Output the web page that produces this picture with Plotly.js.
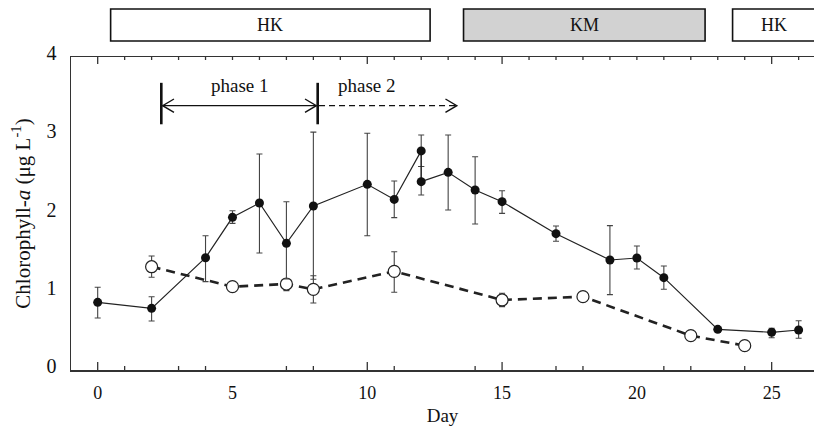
<!DOCTYPE html>
<html>
<head>
<meta charset="utf-8">
<script src="https://cdn.plot.ly/plotly-3.0.1.min.js"></script>
<style>html,body{margin:0;padding:0;background:#fff;}#chart{width:814px;height:433px;}</style>
</head>
<body>
<div id="chart"></div>
<script>
// ---- data ----
const xTickVals = [0, 5, 10, 15, 20, 25];
const xTickText = ['0', '5', '10', '15', '20', '25'];
const yTickVals = [0, 1, 2, 3, 4];
const bottomLongTicks = [0, 10, 15, 25];
const bottomShortTicks = [1, 3, 4, 7, 8, 11, 14, 17, 18, 21, 22, 24];
const topLongTicks = [0, 10, 15, 25];
const topShortTicks = [1, 2, 3, 4, 5, 6, 7, 8, 9, 11, 12, 13, 14, 16, 17, 18, 19, 20, 21, 22, 23, 24, 26];

const filledDay  = [0, 2, 4, 5, 6, 7, 8, 10, 11, 12, 12, 13, 14, 15, 17, 19, 20, 21, 23, 25, 26];
const filledChl  = [0.865, 0.788, 1.435, 1.951, 2.134, 1.619, 2.096, 2.373, 2.18, 2.80, 2.407, 2.526, 2.30, 2.151, 1.742, 1.406, 1.431, 1.18, 0.52, 0.482, 0.511];
const filledHigh = [1.057, 0.937, 1.716, 2.036, 2.76, 2.151, 3.04, 3.025, 2.415, 3.003, 2.6, 3.003, 2.726, 2.29, 1.84, 1.845, 1.585, 1.329, 0.54, 0.533, 0.63];
const filledLow  = [0.665, 0.626, 1.13, 1.874, 1.495, 1.163, 1.16, 1.716, 1.947, 2.6, 2.236, 2.045, 1.866, 2.002, 1.645, 0.963, 1.29, 1.031, 0.50, 0.413, 0.405];

const openDay  = [2, 5, 7, 8, 11, 15, 18, 22, 24];
const openChl  = [1.32, 1.065, 1.099, 1.031, 1.261, 0.895, 0.937, 0.439, 0.311];
const openHigh = [1.457, 1.09, 1.159, 1.205, 1.512, 0.98, 0.96, 0.44, 0.311];
const openLow  = [1.185, 1.04, 1.014, 0.856, 0.993, 0.81, 0.92, 0.44, 0.311];

const periodLabels = ['HK', 'KM', 'HK'];
const periodStart  = [0.48, 13.57, 23.55];
const periodEnd    = [12.33, 22.53, 27.5];
const periodLabelX = [6.4, 18.05, 25.1];
const periodFill   = ['#ffffff', '#d2d2d2', '#ffffff'];

const phaseLabels = ['phase 1', 'phase 2'];
const phaseStart  = [2.36, 8.16];
const phaseEnd    = [8.16, 13.32];
const phaseLabelX = [5.28, 10.0];

// ---- styling ----
const ink = '#222222';
const axisColor = '#333333';
const serif = 'Liberation Serif, Times New Roman, serif';
const xRange = [-0.99, 26.57];

const plusOf = (hi, v) => hi.map((h, i) => Math.max(0, h - v[i]));
const minusOf = (lo, v) => lo.map((l, i) => Math.max(0, v[i] - l));

const traces = [
  {
    x: openDay, y: openChl, type: 'scatter', mode: 'lines+markers',
    line: {color: ink, width: 2.6, dash: '9px,6px'},
    marker: {symbol: 'circle', size: 12, color: '#ffffff', line: {color: ink, width: 1.2}},
    error_y: {type: 'data', symmetric: false, array: plusOf(openHigh, openChl), arrayminus: minusOf(openLow, openChl),
              color: '#444', thickness: 1.1, width: 3},
    showlegend: false, hoverinfo: 'x+y'
  },
  {
    x: filledDay, y: filledChl, type: 'scatter', mode: 'lines+markers',
    line: {color: ink, width: 1.2},
    marker: {symbol: 'circle', size: 9, color: '#111111'},
    error_y: {type: 'data', symmetric: false, array: plusOf(filledHigh, filledChl), arrayminus: minusOf(filledLow, filledChl),
              color: '#444', thickness: 1.1, width: 3},
    showlegend: false, hoverinfo: 'x+y'
  }
];

const H = 433, mt = 57, mb = 63;
const plotH = H - mt - mb;
const pyToPaper = py => (H - mb - py) / plotH;
const tickFrac = px => px / plotH;

const shapes = [];
const annotations = [];

// inward tick marks placed on the x scale
const tick = (xv, edge, len) => ({
  type: 'line', xref: 'x', yref: 'paper',
  x0: xv, x1: xv, y0: edge, y1: edge === 0 ? tickFrac(len) : 1 - tickFrac(len),
  line: {color: axisColor, width: 1.3}
});
bottomLongTicks.forEach(v => shapes.push(tick(v, 0, 8)));
bottomShortTicks.forEach(v => shapes.push(tick(v, 0, 4)));
topLongTicks.forEach(v => shapes.push(tick(v, 1, 7)));
topShortTicks.forEach(v => shapes.push(tick(v, 1, 3)));

// period boxes above the plot
periodLabels.forEach((lab, i) => {
  shapes.push({type: 'rect', xref: 'x', yref: 'paper', x0: periodStart[i], x1: periodEnd[i],
    y0: pyToPaper(41), y1: pyToPaper(9), fillcolor: periodFill[i], line: {color: '#111', width: 1.6}});
  annotations.push({xref: 'x', yref: 'paper', x: periodLabelX[i], y: pyToPaper(25), xanchor: 'center', yanchor: 'middle',
    text: lab, showarrow: false, font: {family: serif, size: 18, color: '#111'}});
});

// phase markers
const barLo = 3.14, barHi = 3.67, arrowY = 3.378;
const headDx = 0.42, headDy = 0.085;
[phaseStart[0], phaseEnd[0]].forEach(xv => {
  shapes.push({type: 'line', xref: 'x', yref: 'y', x0: xv, x1: xv, y0: barLo, y1: barHi, line: {color: '#111', width: 2.6}});
});
const a0 = phaseStart[0] + 0.05, a1 = phaseEnd[0] - 0.05;
shapes.push({type: 'line', xref: 'x', yref: 'y', x0: a0, x1: a1, y0: arrowY, y1: arrowY, line: {color: '#111', width: 1.4}});
shapes.push({type: 'path', xref: 'x', yref: 'y',
  path: `M ${a0 + headDx} ${arrowY + headDy} L ${a0} ${arrowY} L ${a0 + headDx} ${arrowY - headDy}`,
  line: {color: '#111', width: 1.4}});
shapes.push({type: 'path', xref: 'x', yref: 'y',
  path: `M ${a1 - headDx} ${arrowY + headDy} L ${a1} ${arrowY} L ${a1 - headDx} ${arrowY - headDy}`,
  line: {color: '#111', width: 1.4}});
const b0 = phaseStart[1] + 0.05, b1 = phaseEnd[1];
shapes.push({type: 'line', xref: 'x', yref: 'y', x0: b0, x1: b1, y0: arrowY, y1: arrowY, line: {color: '#111', width: 1.4, dash: '6px,4px'}});
shapes.push({type: 'path', xref: 'x', yref: 'y',
  path: `M ${b1 - headDx} ${arrowY + headDy} L ${b1} ${arrowY} L ${b1 - headDx} ${arrowY - headDy}`,
  line: {color: '#111', width: 1.4}});

phaseLabels.forEach((lab, i) => {
  annotations.push({xref: 'x', yref: 'y', x: phaseLabelX[i], y: 3.64, xanchor: 'center', yanchor: 'middle',
    text: lab, showarrow: false, font: {family: serif, size: 19, color: '#111'}});
});

const layout = {
  width: 814, height: 433,
  margin: {l: 71, r: 0, t: mt, b: mb, pad: 0},
  paper_bgcolor: '#ffffff', plot_bgcolor: '#ffffff',
  showlegend: false,
  font: {family: serif, size: 18, color: '#111'},
  xaxis: {
    range: xRange, tickmode: 'array', tickvals: xTickVals, ticktext: xTickText,
    ticks: '', showgrid: false, zeroline: false, showline: true, mirror: true,
    linecolor: axisColor, linewidth: 1.5,
    ticklabelstandoff: 6, tickfont: {family: serif, size: 18, color: '#111'},
    title: {text: 'Day', font: {family: serif, size: 19, color: '#111'}, standoff: 6},
    fixedrange: true
  },
  yaxis: {
    range: [0, 4], tickmode: 'array', tickvals: yTickVals, ticks: '',
    showgrid: false, zeroline: false, showline: true, linecolor: axisColor, linewidth: 1.5,
    ticklabelstandoff: 9, ticklabelshift: -4, tickfont: {family: serif, size: 20, color: '#111'},
    title: {text: 'Chlorophyll-<i>a</i> (μg L<sup>-1</sup>)', font: {family: serif, size: 21, color: '#111'}, standoff: 10},
    fixedrange: true
  },
  shapes: shapes,
  annotations: annotations
};

Plotly.newPlot('chart', traces, layout, {staticPlot: true, displayModeBar: false});
</script>
</body>
</html>
